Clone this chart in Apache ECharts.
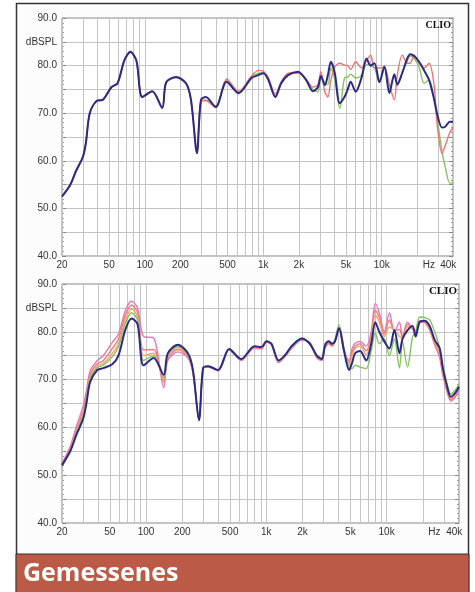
<!DOCTYPE html>
<html>
<head>
<meta charset="utf-8">
<script src="https://cdn.jsdelivr.net/npm/echarts@6/dist/echarts.min.js"></script>
<style>
  html, body { margin: 0; padding: 0; background: #fff; }
  #chart { width: 475px; height: 592px; }
</style>
</head>
<body>
<div id="chart"></div>
<script>
// frequencies (Hz) shared by all curves
const freqs = [20, 23.4, 26.2, 30, 31.8, 34.3, 39.3, 44.1, 52.4, 58.9,
  67.4, 75.7, 85, 95.3, 115.6, 140.3, 151.5, 183.8, 222.9, 245.5,
  275.5, 298, 327.6, 397, 491, 619, 796, 910, 1003, 1104,
  1264, 1419, 1624, 1969, 2297, 2630, 2897, 3068, 3313, 3514,
  3724, 4022, 4428, 4875, 5166, 5474, 6028, 6766, 7450, 8052,
  8690, 9572, 10544, 11610, 12790, 13550, 14925, 16440, 17420, 18800,
  20700, 22800, 25110, 27660, 29300, 32280, 34200, 37660, 40000]

// upper chart
const topNavy = [52.5, 54.9, 57.8, 60.8, 63.7, 70, 72.6, 72.8, 75.5, 76.3,
  81.2, 82.9, 81, 73.4, 74.6, 71.1, 76.5, 77.6, 76.3, 72.8,
  61.6, 72.8, 73.4, 71.3, 76.6, 74.2, 77.4, 78, 78.4, 77,
  73.4, 76.3, 78, 78.7, 77, 74.6, 75.5, 77.8, 75.9, 78,
  80.8, 78.4, 72.1, 73.5, 75, 76.6, 74.5, 77.5, 81.5, 80,
  80.5, 76.5, 79.8, 74.2, 78.2, 76, 78.5, 81.5, 82.4, 82,
  80.8, 79, 77, 73, 70, 67, 67.1, 68.2, 68.2]
const topRed = [52.4, 54.8, 57.7, 60.7, 63.6, 69.9, 72.5, 72.8, 75.4, 76.2,
  81.1, 82.8, 80.9, 73.4, 74.5, 71.1, 76.4, 77.5, 76.2, 72.7,
  61.8, 72.5, 72.6, 71.2, 77.2, 74.6, 77.8, 79, 78.8, 77.5,
  74, 76.6, 78.4, 78.5, 77.2, 75.5, 76, 78.7, 74.5, 73.4,
  77, 79.7, 80.5, 80.1, 80, 79.2, 80.8, 79.5, 81, 82.2,
  79.5, 79.5, 79.7, 76, 72.8, 78, 82.2, 80.5, 80.5, 82.2,
  80.5, 79.5, 80.5, 76, 68, 61.5, 63, 66, 67]
const topGreen = [52.5, 54.9, 57.9, 60.9, 63.8, 70, 72.6, 72.9, 75.5, 76.3,
  81.1, 82.8, 81, 73.5, 74.6, 71.2, 76.4, 77.5, 76.2, 72.8,
  62, 72.4, 72.8, 71.5, 76.8, 74.4, 77.6, 78.4, 78.5, 77.2,
  73.6, 76.4, 78.2, 78.4, 77.1, 75, 74.5, 77.5, 76.5, 76,
  79.5, 77, 71, 77.5, 77.6, 78.2, 77.4, 78, 80.2, 80,
  79.5, 76.5, 79.5, 75, 78, 76.2, 78.5, 81, 82, 81.5,
  79.7, 76.3, 77, 73, 69.2, 62, 59, 55.3, 55.3]

// lower chart
const botPink = [52.5, 56, 60, 64.5, 67.5, 71.8, 74, 75, 77.8, 79.5,
  84.5, 86.4, 85, 79, 78.7, 68.3, 74, 75.8, 74.5, 71.3,
  61.5, 72.2, 72.6, 71.8, 76.2, 74, 76.6, 76.4, 77.8, 77.2,
  73.5, 74.7, 76.5, 78.3, 77.8, 74.5, 74, 76.5, 77.5, 77,
  78, 80.5, 76, 74, 76.5, 77.6, 78, 77, 80, 86,
  84, 80, 84, 80, 82, 79, 82, 80.5, 80, 82.3,
  82, 80.4, 77.5, 74.5, 71, 67, 65.5, 66.5, 68]
const botSalmon = [52.3, 55.6, 59.3, 63.5, 66.5, 71, 73.3, 74, 76.5, 78.5,
  83.5, 85.6, 84, 76.2, 76.3, 69.5, 74.5, 76.3, 74.8, 71.5,
  61.5, 72.3, 72.7, 71.9, 76.3, 74.1, 76.8, 76.6, 77.9, 77.3,
  73.7, 74.8, 76.7, 78.4, 77.7, 74.7, 74.2, 76.8, 77.7, 77.2,
  78, 80.6, 76, 73.5, 75.8, 77, 77.5, 76, 79.2, 84.5,
  83, 79.5, 82.5, 80.2, 80.5, 78.8, 81.5, 80.8, 79.5, 82,
  82, 80.5, 77.3, 75, 71.3, 67, 65.8, 66.8, 68.2]
const botOrange = [52.2, 55.3, 58.9, 62.8, 65.8, 70.5, 72.8, 73.4, 75.5, 77.5,
  82.5, 84.8, 83.2, 75, 75.5, 70, 75, 76.7, 75, 71.7,
  61.5, 72.3, 72.7, 72, 76.3, 74.2, 76.9, 76.7, 78, 77.4,
  73.8, 74.9, 76.8, 78.5, 77.6, 74.8, 74.2, 76.9, 77.8, 77.3,
  78, 80.7, 76, 73, 75, 76.5, 77, 75.2, 78.5, 83.5,
  82, 79, 81, 80.3, 79, 78.6, 81, 81, 79.3, 82,
  82.2, 80.8, 77.8, 75.5, 71.8, 67.5, 66, 67, 68.4]
const botGreen = [51.8, 55.1, 58.7, 62.5, 65.5, 70.2, 72.5, 73, 74.8, 76.8,
  81.8, 84, 82.5, 74, 75, 70.5, 75.2, 77, 75.2, 71.8,
  61.5, 72.4, 72.8, 72, 76.4, 74.3, 77, 76.8, 78.1, 77.5,
  74, 75, 77, 78.6, 77.5, 75, 74.5, 77.5, 78, 77.5,
  78.5, 81.5, 76.5, 72.5, 72.3, 73, 72.6, 72.3, 76, 79.8,
  77.5, 78.5, 75, 78.5, 72.4, 78, 72.6, 79, 80, 83.1,
  83, 82.5, 80, 76.6, 73, 68.5, 67, 68, 69]
const botNavy = [52.1, 55, 58.3, 61.8, 64.8, 69.5, 72, 72.4, 73.2, 75,
  80.5, 82.8, 81.6, 73, 74.5, 71, 75.5, 77.3, 75.5, 72,
  61.5, 72.4, 72.8, 72, 76.4, 74.3, 77, 76.8, 78, 77.5,
  74, 75, 77, 78.6, 77.5, 75, 74.3, 77, 78, 77.5,
  78, 80.8, 76, 72, 73.5, 75.5, 76, 74, 77.5, 82,
  80, 78, 76.5, 80.4, 75.5, 78.5, 80.3, 81.2, 79, 82,
  82.3, 81.2, 78.3, 76.5, 72.5, 68, 66.4, 67.4, 68.5]

// axis ticks
const gridFreqs = [20, 30, 40, 50, 60, 70, 80, 90, 100, 200, 300, 400, 500, 600, 700, 800, 900,
  1000, 2000, 3000, 4000, 5000, 6000, 7000, 8000, 9000, 10000, 20000, 30000, 40000]
const freqLabels = { 20: '20', 50: '50', 100: '100', 200: '200', 500: '500',
  1000: '1k', 2000: '2k', 5000: '5k', 10000: '10k' }
const extraLabels = [[25000, 'Hz'], [36500, '40k']]
const dbMin = 40, dbMax = 90, dbStep = 5

const NAVY = '#2c2a86'
const grids = [
  { left: 62, right: 22, top: 18, height: 238 },
  { left: 62, right: 16, top: 284, height: 239 }
]

function pairs(vals) {
  return freqs.map((f, i) => [f, vals[i]])
}

function gridMarkLine() {
  const data = gridFreqs.map(f => ({
    xAxis: f,
    label: freqLabels[f] ? { show: true, formatter: freqLabels[f] } : { show: false }
  }))
  extraLabels.forEach(([f, t]) => {
    data.push({ xAxis: f, lineStyle: { color: 'rgba(0,0,0,0)' }, label: { show: true, formatter: t } })
  })
  return {
    silent: true,
    symbol: 'none',
    z: 1,
    animation: false,
    lineStyle: { color: '#c4c4c4', width: 1, type: 'solid' },
    label: { position: 'start', distance: 4, color: '#333', fontSize: 10, fontFamily: 'Liberation Sans' },
    emphasis: { disabled: true },
    data: data
  }
}

function line(gi, name, vals, color, width) {
  return {
    type: 'line', name: name, xAxisIndex: gi, yAxisIndex: gi * 2,
    data: pairs(vals), showSymbol: false, smooth: 0.3, silent: true,
    lineStyle: { color: color, width: width }, z: 3
  }
}

const xAxes = grids.map((g, i) => ({
  type: 'log', logBase: 10, gridIndex: i, min: 20, max: 40000,
  axisLine: { show: false }, axisTick: { show: false },
  axisLabel: { show: false }, splitLine: { show: false }
}))

const yAxes = []
grids.forEach((g, i) => {
  yAxes.push({
    type: 'value', gridIndex: i, min: dbMin, max: dbMax, interval: dbStep,
    axisLine: { show: true, lineStyle: { color: '#888' } },
    axisTick: { show: true, inside: true, length: 4, lineStyle: { color: '#888' } },
    minorTick: { show: true, splitNumber: 5, length: 2, lineStyle: { color: '#999' } },
    splitLine: { show: true, lineStyle: { color: '#c4c4c4' } },
    axisLabel: {
      margin: 5, fontSize: 10, color: '#333', fontFamily: 'Liberation Sans',
      formatter: v => v % 10 === 0 ? v.toFixed(1) : (v === 85 ? 'dBSPL' : '')
    }
  })
  yAxes.push({
    type: 'value', gridIndex: i, min: dbMin, max: dbMax, interval: dbStep, position: 'right',
    axisLine: { show: true, lineStyle: { color: '#888' } },
    axisTick: { show: true, inside: true, length: 4, lineStyle: { color: '#888' } },
    minorTick: { show: true, splitNumber: 5, length: 2, lineStyle: { color: '#999' } },
    splitLine: { show: false }, axisLabel: { show: false }
  })
})

const series = [
  { type: 'line', xAxisIndex: 0, yAxisIndex: 0, data: [], markLine: gridMarkLine() },
  { type: 'line', xAxisIndex: 1, yAxisIndex: 2, data: [], markLine: gridMarkLine() },
  line(0, 'green', topGreen, '#86c25f', 1.4),
  line(0, 'red', topRed, '#ec7575', 1.4),
  line(0, 'navy', topNavy, NAVY, 2),
  line(1, 'pink', botPink, '#e07ab8', 1.4),
  line(1, 'salmon', botSalmon, '#ef7c7a', 1.4),
  line(1, 'orange', botOrange, '#f2a468', 1.4),
  line(1, 'green', botGreen, '#86c25f', 1.4),
  line(1, 'navy', botNavy, NAVY, 2)
]

const chart = echarts.init(document.getElementById('chart'))
chart.setOption({
  animation: false,
  backgroundColor: '#fff',
  grid: grids.map(g => Object.assign({ show: true, borderColor: '#888', borderWidth: 1, backgroundColor: '#fff' }, g)),
  xAxis: xAxes,
  yAxis: yAxes,
  series: series,
  graphic: [
    { type: 'rect', z: -10, silent: true, shape: { x: 16.5, y: 3.5, width: 452, height: 600 },
      style: { fill: '#fcfcfc', stroke: '#333', lineWidth: 1.5 } },
    { type: 'rect', z: 10, silent: true, shape: { x: 16, y: 554, width: 453, height: 40 },
      style: { fill: '#bb5a47', stroke: '#333', lineWidth: 1 } },
    { type: 'text', z: 11, silent: true, left: 23, top: 561,
      style: { text: 'Gemessenes', fill: '#fff', font: 'bold 25px "Open Sans"' } },
    { type: 'text', z: 11, silent: true, right: 24, top: 20,
      style: { text: 'CLIO', fill: '#111', font: 'bold 10px "Liberation Serif"' } },
    { type: 'text', z: 11, silent: true, right: 18, top: 286,
      style: { text: 'CLIO', fill: '#111', font: 'bold 11px "Liberation Serif"' } }
  ]
})
</script>
</body>
</html>
